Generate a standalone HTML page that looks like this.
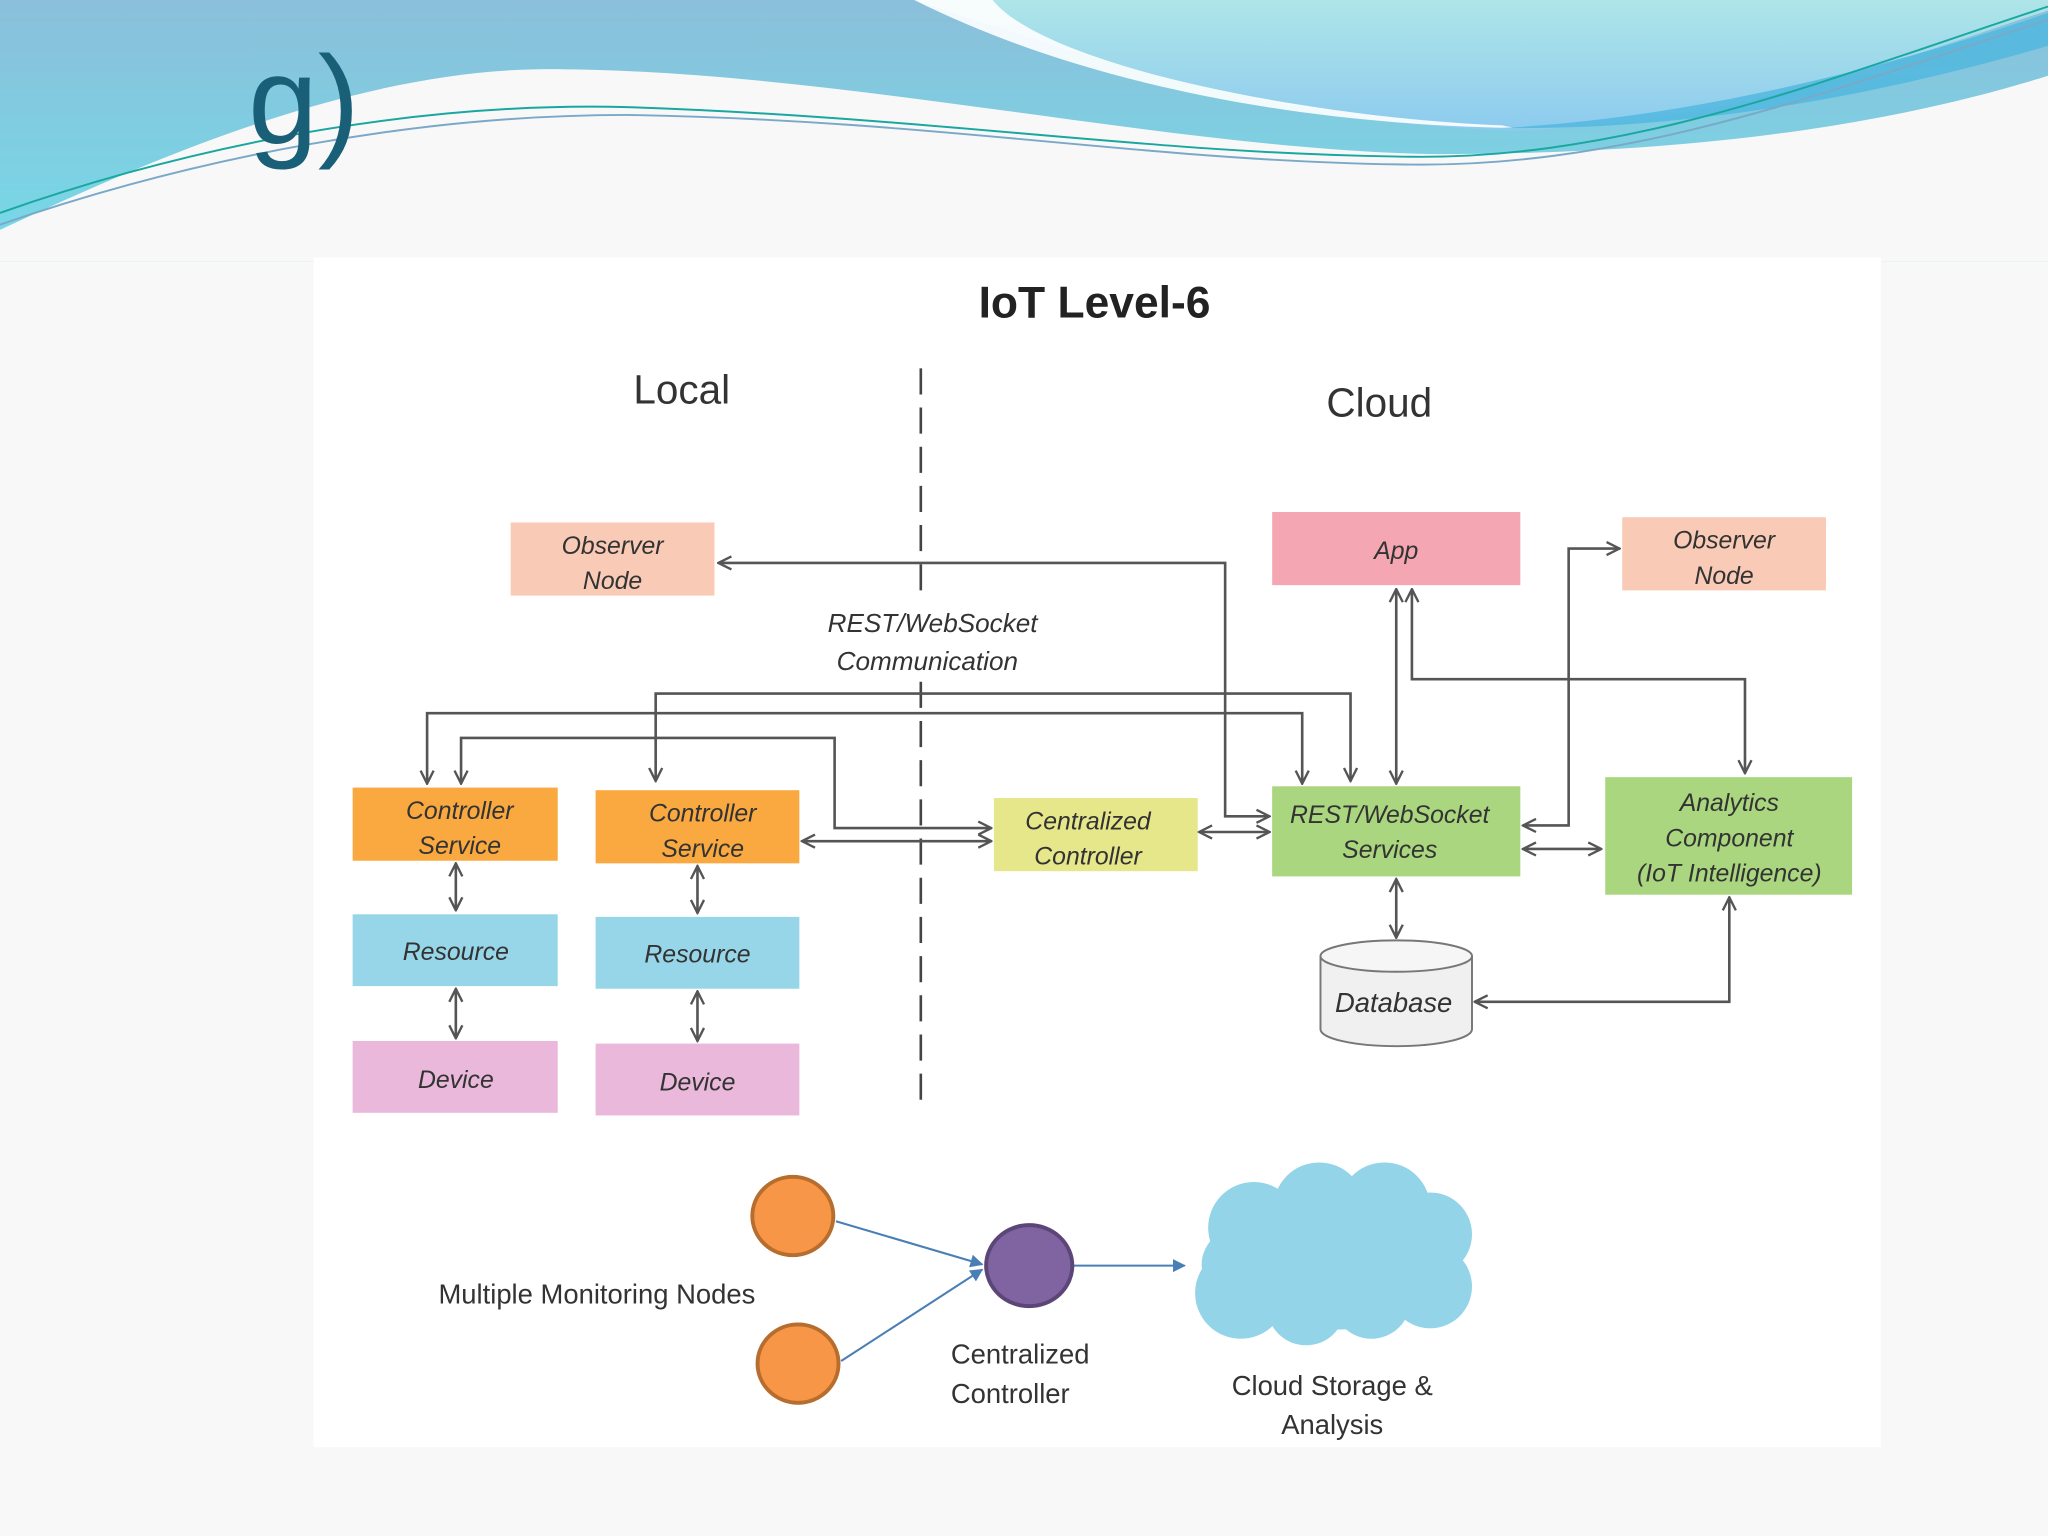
<!DOCTYPE html>
<html><head><meta charset="utf-8"><style>
html,body{margin:0;padding:0;background:#f8f8f8;}
svg{display:block}
text{font-family:"Liberation Sans",sans-serif;fill:#333}
.b{font-style:italic;font-size:19px;fill:#333;text-anchor:middle}
.l{stroke:#555;stroke-width:2;fill:none}
</style></head><body>
<svg width="2048" height="1536" viewBox="0 0 1568 1176" xmlns="http://www.w3.org/2000/svg">
<defs>
<linearGradient id="hg" x1="0" y1="0" x2="0" y2="1"><stop offset="0" stop-color="#8bbfda"/><stop offset="1" stop-color="#74dbe8"/></linearGradient>
<linearGradient id="rg" x1="0" y1="0" x2="0" y2="1"><stop offset="0" stop-color="#aee5e8"/><stop offset="1" stop-color="#8dcbee"/></linearGradient>
<marker id="a" viewBox="0 0 12 12" refX="11" refY="6" markerWidth="12" markerHeight="12" markerUnits="userSpaceOnUse" orient="auto-start-reverse"><path d="M1,1 L11,6 L1,11" fill="none" stroke="#555" stroke-width="1.8"/></marker>
<marker id="bl" viewBox="0 0 10 10" refX="9" refY="5" markerWidth="10" markerHeight="10" markerUnits="userSpaceOnUse" orient="auto"><path d="M0,0 L10,5 L0,10 Z" fill="#4a7fb5"/></marker>
</defs>
<rect width="1568" height="1176" fill="#f8f8f8"/>
<!-- header -->
<rect width="1568" height="200" fill="url(#hg)"/>
<path d="M700,0 C820,40 980,95 1160,100 C1330,95 1470,40 1568,8 L1568,0 Z" fill="url(#rg)"/>
<path d="M700,0 C820,60 980,95 1160,98 L1150,96 C1000,90 800,50 760,0 Z" fill="#fff" opacity="0.9"/>
<path d="M1150,98 C1300,90 1450,50 1568,10 L1568,35 C1450,70 1300,100 1150,98 Z" fill="#4fb6df" opacity="0.8"/>
<path d="M0,176 C120,120 280,50 430,53 C650,55 900,115 1100,118 C1300,118 1450,95 1568,58 L1568,200 L0,200 Z" fill="#f8f8f8"/>
<path d="M0,163 C150,110 320,78 480,82 C720,90 880,118 1080,120 C1250,122 1400,60 1568,5" fill="none" stroke="#1aa7a0" stroke-width="1.5"/>
<path d="M0,172 C150,120 320,88 480,88 C720,92 880,124 1080,126 C1250,128 1400,70 1568,15" fill="none" stroke="#7aa9c8" stroke-width="1.5"/>
<text x="190" y="110" font-size="96" style="fill:#1a5f78">g)</text>
<!-- panel -->
<rect x="240" y="197" width="1200" height="911" fill="#fff"/>
<text x="838" y="243" font-size="34" font-weight="bold" text-anchor="middle" style="fill:#222">IoT Level-6</text>
<text x="522" y="309" font-size="31" text-anchor="middle">Local</text>
<text x="1056" y="319" font-size="31" text-anchor="middle">Cloud</text>
<line x1="705" y1="282" x2="705" y2="845" stroke="#444" stroke-width="2" stroke-dasharray="20,10"/>
<rect x="625" y="460" width="180" height="60" fill="#fff"/>
<text x="714" y="484" class="b" style="font-size:20px">REST/WebSocket</text>
<text x="710" y="513" class="b" style="font-size:20px">Communication</text>
<!-- boxes -->
<rect x="391" y="400" width="156" height="56" fill="#f9cbb6"/><text class="b" x="469" y="424">Observer</text><text class="b" x="469" y="451">Node</text>
<rect x="974" y="392" width="190" height="56" fill="#f4a7b3"/><text class="b" x="1069" y="428">App</text>
<rect x="1242" y="396" width="156" height="56" fill="#f9cbb6"/><text class="b" x="1320" y="420">Observer</text><text class="b" x="1320" y="447">Node</text>
<rect x="270" y="603" width="157" height="56" fill="#f9a940"/><text class="b" x="352" y="627">Controller</text><text class="b" x="352" y="654">Service</text>
<rect x="456" y="605" width="156" height="56" fill="#f9a940"/><text class="b" x="538" y="629">Controller</text><text class="b" x="538" y="656">Service</text>
<rect x="270" y="700" width="157" height="55" fill="#97d6e8"/><text class="b" x="349" y="735">Resource</text>
<rect x="456" y="702" width="156" height="55" fill="#97d6e8"/><text class="b" x="534" y="737">Resource</text>
<rect x="270" y="797" width="157" height="55" fill="#e9b8da"/><text class="b" x="349" y="833">Device</text>
<rect x="456" y="799" width="156" height="55" fill="#e9b8da"/><text class="b" x="534" y="835">Device</text>
<rect x="761" y="611" width="156" height="56" fill="#e6e68a"/><text class="b" x="833" y="635">Centralized</text><text class="b" x="833" y="662">Controller</text>
<rect x="974" y="602" width="190" height="69" fill="#a9d67e"/><text class="b" x="1064" y="630">REST/WebSocket</text><text class="b" x="1064" y="657">Services</text>
<rect x="1229" y="595" width="189" height="90" fill="#a9d67e"/><text class="b" x="1324" y="621">Analytics</text><text class="b" x="1324" y="648">Component</text><text class="b" x="1324" y="675">(IoT Intelligence)</text>
<!-- database -->
<path d="M1011,732 L1011,788 A58,13 0 0 0 1127,788 L1127,732" fill="#f0f0f0" stroke="#777" stroke-width="1.5"/>
<ellipse cx="1069" cy="732" rx="58" ry="12" fill="#f6f6f6" stroke="#777" stroke-width="1.5"/>
<text class="b" x="1067" y="775" style="font-size:21px">Database</text>
<!-- connectors -->
<path class="l" d="M972,625 L938,625 L938,431 L550,431" marker-start="url(#a)" marker-end="url(#a)"/>
<path class="l" d="M327,600 L327,546 L997,546 L997,600" marker-start="url(#a)" marker-end="url(#a)"/>
<path class="l" d="M502,598 L502,531 L1034,531 L1034,598" marker-start="url(#a)" marker-end="url(#a)"/>
<path class="l" d="M353,600 L353,565 L639,565 L639,634 L759,634" marker-start="url(#a)" marker-end="url(#a)"/>
<path class="l" d="M614,644 L759,644" marker-start="url(#a)" marker-end="url(#a)"/>
<path class="l" d="M918,637 L972,637" marker-start="url(#a)" marker-end="url(#a)"/>
<path class="l" d="M1069,451 L1069,600" marker-start="url(#a)" marker-end="url(#a)"/>
<path class="l" d="M1081,451 L1081,520 L1336,520 L1336,592" marker-start="url(#a)" marker-end="url(#a)"/>
<path class="l" d="M1166,632 L1201,632 L1201,420 L1240,420" marker-start="url(#a)" marker-end="url(#a)"/>
<path class="l" d="M1166,650 L1226,650" marker-start="url(#a)" marker-end="url(#a)"/>
<path class="l" d="M1069,673 L1069,718" marker-start="url(#a)" marker-end="url(#a)"/>
<path class="l" d="M1129,767 L1324,767 L1324,687" marker-start="url(#a)" marker-end="url(#a)"/>
<path class="l" d="M349,661 L349,697" marker-start="url(#a)" marker-end="url(#a)"/>
<path class="l" d="M349,757 L349,795" marker-start="url(#a)" marker-end="url(#a)"/>
<path class="l" d="M534,663 L534,699" marker-start="url(#a)" marker-end="url(#a)"/>
<path class="l" d="M534,759 L534,797" marker-start="url(#a)" marker-end="url(#a)"/>
<!-- bottom -->
<line x1="640" y1="935" x2="752" y2="968" stroke="#4a7fb5" stroke-width="1.6" marker-end="url(#bl)"/>
<line x1="644" y1="1042" x2="752" y2="972" stroke="#4a7fb5" stroke-width="1.6" marker-end="url(#bl)"/>
<line x1="822" y1="969" x2="907" y2="969" stroke="#4a7fb5" stroke-width="1.6" marker-end="url(#bl)"/>
<ellipse cx="607" cy="931" rx="31" ry="30" fill="#f79646" stroke="#b66d2e" stroke-width="3"/>
<ellipse cx="611" cy="1044" rx="31" ry="30" fill="#f79646" stroke="#b66d2e" stroke-width="3"/>
<ellipse cx="788" cy="969" rx="33" ry="31" fill="#8064a2" stroke="#5c4677" stroke-width="3"/>
<g fill="#93d4e8">
<ellipse cx="1020" cy="968" rx="100" ry="50"/>
<circle cx="960" cy="940" r="35"/><circle cx="1010" cy="925" r="35"/><circle cx="1060" cy="925" r="35"/><circle cx="1095" cy="945" r="32"/>
<circle cx="950" cy="990" r="35"/><circle cx="1000" cy="1000" r="30"/><circle cx="1050" cy="995" r="30"/><circle cx="1095" cy="985" r="32"/>
</g>
<text x="457" y="998" font-size="21" text-anchor="middle">Multiple Monitoring Nodes</text>
<text x="728" y="1044" font-size="21">Centralized</text>
<text x="728" y="1074" font-size="21">Controller</text>
<text x="1020" y="1068" font-size="21" text-anchor="middle">Cloud Storage &amp;</text>
<text x="1020" y="1098" font-size="21" text-anchor="middle">Analysis</text>
</svg>
</body></html>
